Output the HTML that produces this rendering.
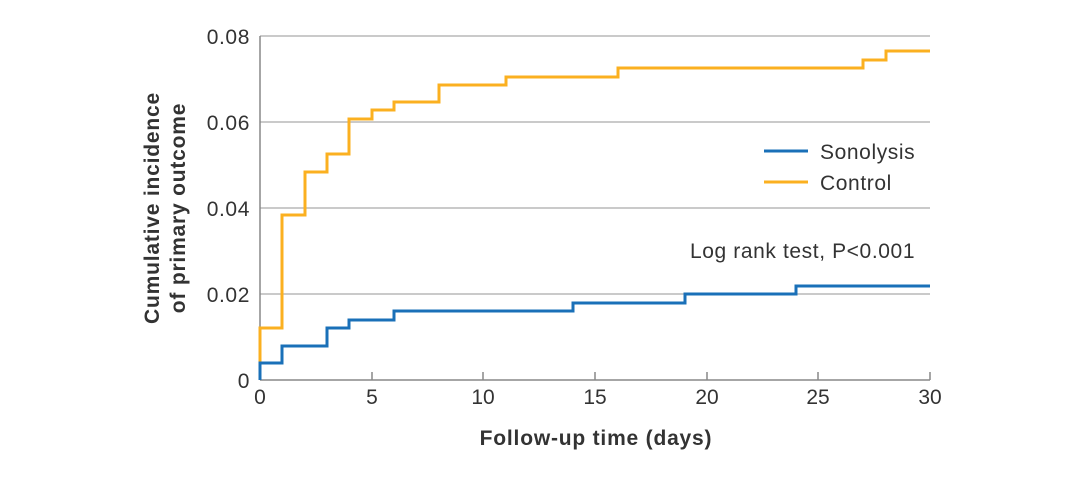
<!DOCTYPE html>
<html><head><style>body{margin:0;background:#fff}</style></head><body>
<svg width="1092" height="484" xmlns="http://www.w3.org/2000/svg" font-family="Liberation Sans, DejaVu Sans, sans-serif">
<g stroke="#b8b8b8" stroke-width="1.5">
<line x1="260" y1="36" x2="930" y2="36"/><line x1="260" y1="122" x2="930" y2="122"/>
<line x1="260" y1="208" x2="930" y2="208"/><line x1="260" y1="294" x2="930" y2="294"/>
</g>
<g stroke="#888" stroke-width="1.5" fill="none">
<line x1="260" y1="36" x2="260" y2="380"/><line x1="260" y1="380" x2="930" y2="380"/>
<line x1="372" y1="380" x2="372" y2="372"/><line x1="483" y1="380" x2="483" y2="372"/>
<line x1="595" y1="380" x2="595" y2="372"/><line x1="707" y1="380" x2="707" y2="372"/>
<line x1="818" y1="380" x2="818" y2="372"/><line x1="930" y1="380" x2="930" y2="372"/>
</g>
<g font-size="21" fill="#333" text-anchor="end" letter-spacing="0.6">
<text x="250" y="44">0.08</text><text x="250" y="130">0.06</text><text x="250" y="216">0.04</text><text x="250" y="302">0.02</text><text x="250" y="388">0</text>
</g>
<g font-size="21" fill="#333" text-anchor="middle">
<text x="260" y="404">0</text><text x="372" y="404">5</text><text x="483" y="404">10</text><text x="595" y="404">15</text><text x="707" y="404">20</text><text x="818" y="404">25</text><text x="930" y="404">30</text>
</g>
<text x="596" y="445" font-size="21" font-weight="bold" fill="#333" text-anchor="middle" letter-spacing="0.8">Follow-up time (days)</text>
<text transform="translate(159,208) rotate(-90)" font-size="21" font-weight="bold" fill="#333" text-anchor="middle" letter-spacing="0.8">Cumulative incidence</text>
<text transform="translate(185,208) rotate(-90)" font-size="21" font-weight="bold" fill="#333" text-anchor="middle" letter-spacing="0.8">of primary outcome</text>
<polyline fill="none" stroke="#fbb020" stroke-width="3" points="260,380 260,328 282,328 282,215 305,215 305,172 327,172 327,154 349,154 349,119 372,119 372,110 394,110 394,102 439,102 439,85 506,85 506,77 618,77 618,68 863,68 863,60 886,60 886,51 930,51"/>
<polyline fill="none" stroke="#1a70b8" stroke-width="3" points="260,380 260,363 282,363 282,346 327,346 327,328 349,328 349,320 394,320 394,311 573,311 573,303 685,303 685,294 796,294 796,286 930,286"/>
<line x1="764" y1="151" x2="808" y2="151" stroke="#1a70b8" stroke-width="3"/>
<line x1="764" y1="182" x2="808" y2="182" stroke="#fbb020" stroke-width="3"/>
<g font-size="21" fill="#333" letter-spacing="0.6">
<text x="820" y="159">Sonolysis</text><text x="820" y="190">Control</text>
<text x="690" y="258">Log rank test, P&lt;0.001</text>
</g>
</svg>
</body></html>
